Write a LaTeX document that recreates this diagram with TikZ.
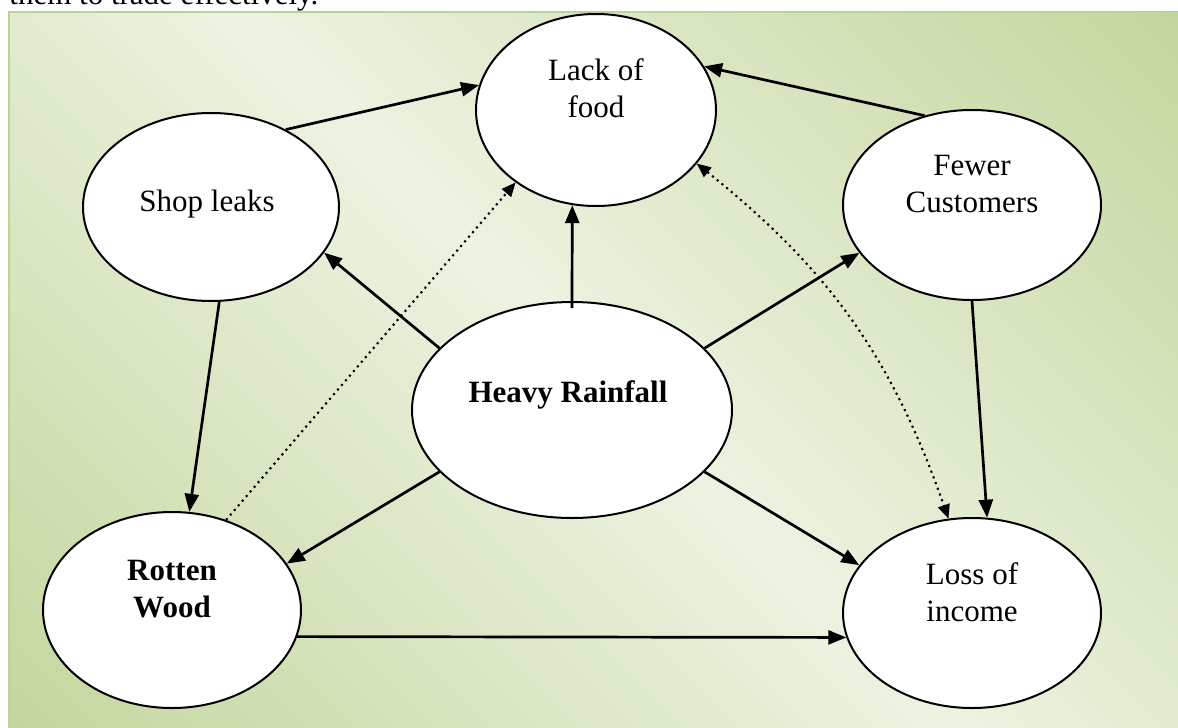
\documentclass[tikz,border=0pt]{standalone}
\usepackage{fontspec}
\setmainfont{Liberation Serif}
\usetikzlibrary{arrows.meta,shapes.geometric}

\definecolor{bgdark}{RGB}{196,214,158}
\definecolor{bglight}{RGB}{236,243,225}
\definecolor{bgedge}{RGB}{188,210,150}

% pale band along one diagonal, deeper green towards the two other corners
\pgfdeclarehorizontalshading{bgband}{100bp}{%
  color(0bp)=(bgdark); color(15bp)=(bgdark); color(50bp)=(bglight);
  color(85bp)=(bgdark); color(100bp)=(bgdark)}

\begin{document}
\begin{tikzpicture}[x=0.5pt,y=-0.5pt,
  bubble/.style={ellipse, draw=black, line width=1pt, fill=white, inner sep=0pt},
  lbl/.style={align=center, inner sep=0pt, font=\fontsize{15.5}{18.5}\selectfont},
  link/.style={line width=1.35pt, -{Triangle[length=9pt,width=7pt]}},
  hint/.style={line width=1.05pt, dotted, -{Triangle[length=7pt,width=6pt]}},
  hintboth/.style={line width=1.05pt, dotted, {Triangle[length=7pt,width=6pt]}-{Triangle[length=7pt,width=6pt]}}]

\useasboundingbox (0,0) rectangle (1178,728);
\clip (0,0) rectangle (1178,728);

% running text above the figure
\node[anchor=base west, inner sep=0pt, font=\fontsize{15.5}{18.5}\selectfont] (intro) at (9,4) {them to trade effectively.};

% framed background
\path[shading=bgband, shading angle=45] (9,12) rectangle (1182,732);
\draw[bgedge, line width=1pt] (1182,12) -- (9,12) -- (9,732);

% bubbles
\node[bubble, minimum width=120pt, minimum height=96pt]  (food)   at (596,110) {};
\node[bubble, minimum width=128pt, minimum height=94pt]  (shop)   at (211,207) {};
\node[bubble, minimum width=129pt, minimum height=95pt]  (fewer)  at (972,205) {};
\node[bubble, minimum width=160pt, minimum height=108pt] (heavy)  at (572,410) {};
\node[bubble, minimum width=129pt, minimum height=98pt]  (rotten) at (172,610) {};
\node[bubble, minimum width=129pt, minimum height=95pt]  (loss)   at (972,613) {};

% bubble texts
\node[lbl] (foodtext)   at (596,88)  {Lack of\\food};
\node[lbl] (shoptext)   at (207,204) {Shop leaks};
\node[lbl] (fewertext)  at (972,184) {Fewer\\Customers};
\node[lbl, font=\fontsize{15.5}{18.5}\selectfont\bfseries] (heavytext)  at (568,395) {Heavy Rainfall};
\node[lbl, font=\fontsize{15.5}{18.5}\selectfont\bfseries] (rottentext) at (172,589) {Rotten\\Wood};
\node[lbl] (losstext)   at (972,592) {Loss of\\income};

% causal links
\draw[link] (shop.46)      -- (food.168);
\draw[link] (fewer.118)    -- (food.22);
\draw[link, shorten <=-3.5pt] (heavy.north) -- (food.256);
\draw[link] (heavy.155)    -- (shop.-22);
\draw[link] (heavy.25)     -- (fewer.203);
\draw[link] (heavy.205)    -- (rotten.22);
\draw[link] (heavy.-25)    -- (loss.157);
\draw[link] (shop.-85)     -- (rotten.80);
\draw[link] (fewer.south)  -- (loss.81);
\draw[link] (rotten.-12)   -- (loss.191);

% weaker links
\draw[hint] (rotten.59) -- (food.222);
\draw[hintboth] (food.-28) to[bend left=16] (loss.104);
\end{tikzpicture}
\end{document}
